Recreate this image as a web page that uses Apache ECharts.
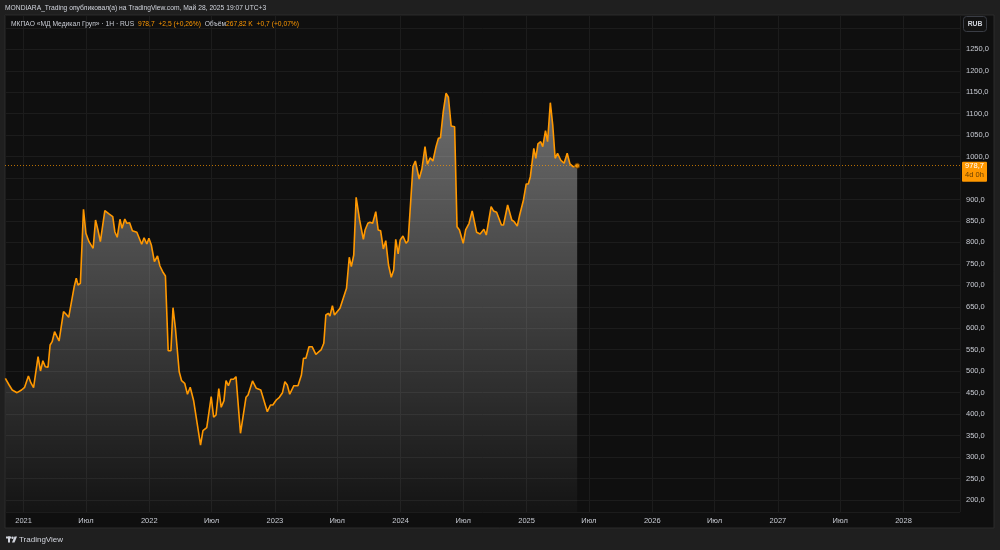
<!DOCTYPE html>
<html>
<head>
<meta charset="utf-8">
<script src="https://cdn.jsdelivr.net/npm/echarts@6/dist/echarts.min.js"></script>
<style>
html, body { margin: 0; padding: 0; background: #1f1f1f; }
#chart { width: 1000px; height: 550px; }
</style>
</head>
<body>
<div id="chart"></div>
<script>
// weekly closes
var dates = [
  '2020-11-09','2020-11-20','2020-11-29','2020-12-13','2020-12-26',
  '2021-01-04','2021-01-15','2021-01-22','2021-01-30','2021-02-12','2021-02-19','2021-02-26','2021-03-05','2021-03-13','2021-03-19','2021-03-25',
  '2021-04-01','2021-04-14','2021-04-27','2021-05-04','2021-05-12','2021-05-28','2021-06-03','2021-06-08','2021-06-15','2021-06-24',
  '2021-07-01','2021-07-10','2021-07-22','2021-07-29','2021-08-05','2021-08-12','2021-08-25','2021-09-06','2021-09-17','2021-09-23','2021-09-30',
  '2021-10-08','2021-10-14','2021-10-22','2021-10-28','2021-11-05','2021-11-13','2021-11-26','2021-12-10','2021-12-17','2021-12-25','2021-12-31',
  '2022-01-07','2022-01-16','2022-01-25','2022-02-01','2022-02-09','2022-02-17','2022-02-25','2022-03-05','2022-03-11','2022-03-18','2022-03-29',
  '2022-04-05','2022-04-14','2022-04-22','2022-04-30','2022-05-10','2022-05-30','2022-06-06','2022-06-17','2022-06-30',
  '2022-07-07','2022-07-14','2022-07-22','2022-07-29','2022-08-06','2022-08-12','2022-08-19','2022-08-26','2022-09-03','2022-09-10','2022-09-23',
  '2022-10-09','2022-10-15','2022-10-28','2022-11-08','2022-11-21','2022-12-10','2022-12-19','2022-12-26',
  '2023-01-05','2023-01-14','2023-01-23','2023-01-30','2023-02-06','2023-02-13','2023-02-25','2023-03-09','2023-03-19','2023-03-25',
  '2023-04-01','2023-04-10','2023-04-19','2023-04-30','2023-05-09','2023-05-15','2023-05-23','2023-05-29','2023-06-05','2023-06-10','2023-06-17','2023-06-23',
  '2023-07-09','2023-07-28','2023-08-05','2023-08-11','2023-08-18','2023-08-25','2023-09-04','2023-09-15','2023-09-20','2023-09-28',
  '2023-10-04','2023-10-12','2023-10-21','2023-10-28','2023-11-04','2023-11-12','2023-11-19','2023-11-27','2023-12-05','2023-12-12','2023-12-18','2023-12-25','2023-12-31',
  '2024-01-08','2024-01-17','2024-01-23','2024-02-06','2024-02-13','2024-02-24','2024-03-03','2024-03-12','2024-03-19','2024-03-27',
  '2024-04-04','2024-04-13','2024-04-20','2024-04-26','2024-05-04','2024-05-12','2024-05-19','2024-05-27','2024-06-06','2024-06-13','2024-06-20',
  '2024-07-01','2024-07-08','2024-07-18','2024-07-27','2024-08-09','2024-08-19','2024-08-30','2024-09-06','2024-09-20','2024-09-27',
  '2024-10-06','2024-10-20','2024-10-26','2024-11-07','2024-11-19','2024-11-26','2024-12-05','2024-12-12','2024-12-23','2024-12-31',
  '2025-01-06','2025-01-12','2025-01-22','2025-01-28','2025-02-03','2025-02-11','2025-02-17','2025-02-25','2025-03-03','2025-03-11','2025-03-18','2025-03-25',
  '2025-04-01','2025-04-10','2025-04-20','2025-04-29','2025-05-07','2025-05-16','2025-05-28'
];
var prices = [
  483.4,467.8,456.2,449.9,456.2,
  462.5,488.8,473.2,461.5,533.8,500.5,524.4,510.5,509.1,561.0,568.7,
  592.0,570.3,638.6,633.3,625.6,696.9,716.4,700.8,704.8,877.2,
  821.3,801.7,786.3,852.3,829.0,801.7,873.9,866.3,860.0,825.0,812.0,
  853.9,832.9,854.6,844.6,846.0,827.3,823.6,795.7,811.0,796.4,809.6,
  794.0,755.1,768.4,745.1,731.8,721.8,547.7,547.7,647.9,600.0,498.8,
  477.9,471.8,446.2,462.5,431.0,328.0,361.4,368.3,440.6,
  392.6,397.9,459.2,415.9,431.3,477.9,466.2,481.1,481.1,487.2,355.3,
  439.2,444.5,477.2,460.1,456.2,405.6,421.2,421.2,
  432.9,439.2,449.9,475.5,467.8,446.2,466.2,466.2,491.1,530.0,
  530.0,557.1,557.1,539.4,545.4,549.4,565.0,630.9,634.9,628.6,652.6,630.9,
  646.5,693.1,765.4,743.5,770.7,905.2,852.3,807.3,829.0,844.6,
  846.9,844.6,871.6,829.0,827.3,784.7,804.0,747.4,718.8,735.8,807.3,773.1,805.7,
  815.0,798.0,804.0,976.5,989.7,947.8,971.1,1023.1,982.1,997.4,
  989.7,1023.1,1042.6,1044.0,1104.6,1147.5,1138.2,1071.3,1069.7,836.7,829.0,
  798.0,829.0,844.6,873.3,823.6,819.7,830.6,817.3,883.3,873.3,
  870.2,840.6,840.6,887.2,852.3,848.3,838.3,863.9,898.9,936.2,
  936.2,953.2,1019.3,996.0,1029.4,1034.7,1023.1,1060.3,1034.7,1125.6,1073.6,996.0,
  1007.7,992.1,984.4,1007.7,982.8,976.5,978.7
];

var lastPrice = 978.7;
var lastPriceText = '978,7';
var barCountdown = '4d 0h';
var currency = 'RUB';
var julyLabel = 'Июл';

var timeMin = new Date(2020, 10, 8).getTime();
var timeMax = new Date(2028, 5, 13).getTime();
var priceMin = 171.9;
var priceMax = 1329.9;

var headerTitle = 'MONDIARA_Trading опубликовал(а) на TradingView.com, Май 28, 2025 19:07 UTC+3';
var symbolName = 'МКПАО «МД Медикал Груп» · 1Н · RUS';
var changeText = '+2,5 (+0,26%)';
var volumeName = 'Объём';
var volumeText = '267,82 K';
var volumeChange = '+0,7 (+0,07%)';

var FONT = '"Liberation Sans", Arial, sans-serif';
var ORANGE = '#ff9800';
var TEXT = '#c9ccd4';

var myChart = echarts.init(document.getElementById('chart'));

var lineData = [];
for (var i = 0; i < dates.length; i++) {
    lineData.push([dates[i], prices[i]]);
}

myChart.setOption({
    animation: false,
    backgroundColor: '#1f1f1f',
    grid: { left: 5, right: 40, top: 15, bottom: 38 },
    xAxis: {
        type: 'time',
        min: timeMin,
        max: timeMax,
        splitNumber: 15,
        axisLine: { show: false },
        axisTick: { show: false },
        splitLine: { show: true, lineStyle: { color: '#1c1c1c', width: 1 } },
        axisLabel: {
            color: TEXT,
            fontSize: 7.5,
            fontFamily: FONT,
            margin: 5,
            hideOverlap: false,
            formatter: function (v) {
                var d = new Date(v);
                if (d.getMonth() === 0) return String(d.getFullYear());
                if (d.getMonth() === 6) return julyLabel;
                return '';
            }
        }
    },
    yAxis: {
        type: 'value',
        position: 'right',
        min: priceMin,
        max: priceMax,
        splitNumber: 23,
        axisLine: { show: false },
        axisTick: { show: false },
        splitLine: { lineStyle: { color: '#1c1c1c', width: 1 } },
        axisLabel: {
            color: TEXT,
            fontSize: 7.5,
            fontFamily: FONT,
            margin: 6,
            align: 'left',
            formatter: function (v) {
                if (v < 200 || v > 1250) return '';
                return v.toFixed(1).replace('.', ',');
            }
        }
    },
    series: [{
        type: 'line',
        data: lineData,
        showSymbol: false,
        symbol: 'none',
        lineStyle: { color: ORANGE, width: 1.6 },
        areaStyle: {
            color: new echarts.graphic.LinearGradient(0, 0, 0, 1, [
                { offset: 0, color: 'rgba(255,255,255,0.56)' },
                { offset: 1, color: 'rgba(255,255,255,0.03)' }
            ])
        },
        markLine: {
            silent: true,
            symbol: ['none', 'none'],
            label: { show: false },
            lineStyle: { color: ORANGE, type: [1, 2], width: 1, opacity: 0.7 },
            data: [{ yAxis: lastPrice }]
        },
        z: 3
    }, {
        type: 'scatter',
        data: [[dates[dates.length - 1], lastPrice]],
        symbolSize: 5,
        itemStyle: { color: ORANGE, borderColor: '#5a3600', borderWidth: 1 },
        z: 4
    }]
});

// frame, header texts and price box
var py = myChart.convertToPixel({ yAxisIndex: 0 }, lastPrice);

myChart.setOption({
    graphic: [
        {
            id: 'panel', type: 'rect', z: -10, silent: true,
            shape: { x: 5, y: 15, width: 989, height: 513 },
            style: { fill: '#0f0f0f', stroke: '#2c2c2c', lineWidth: 1 }
        },
        {
            id: 'title', type: 'text', x: 5, y: 8, scaleX: 0.86,
            style: { text: headerTitle, fill: '#d1d4dc', font: '7.8px ' + FONT, verticalAlign: 'middle' }
        },
        {
            id: 'legend', type: 'text', x: 11, y: 24.3, scaleX: 0.86,
            style: {
                text: '{n|' + symbolName + '}  {o|' + lastPriceText + '}  {o|' + changeText + '}  {n|' + volumeName + '}{o|' + volumeText + '}  {o|' + volumeChange + '}',
                font: '7.8px ' + FONT,
                verticalAlign: 'middle',
                rich: {
                    n: { fill: '#c9ccd4', font: '7.8px ' + FONT },
                    o: { fill: ORANGE, font: '7.8px ' + FONT }
                }
            }
        },
        {
            id: 'rubBox', type: 'rect',
            shape: { x: 963.5, y: 16.5, width: 23, height: 15, r: 3 },
            style: { fill: '#121212', stroke: '#3a3d45', lineWidth: 1 }
        },
        {
            id: 'rubText', type: 'text', x: 975, y: 24,
            style: { text: currency, fill: '#d1d4dc', font: 'bold 6.8px ' + FONT, align: 'center', verticalAlign: 'middle' }
        },
        {
            id: 'priceBox', type: 'rect', z: 20,
            shape: { x: 962, y: py - 4, width: 25, height: 20, r: 1 },
            style: { fill: ORANGE }
        },
        {
            id: 'priceText', type: 'text', z: 21, x: 974.5, y: py + 0.5,
            style: { text: lastPriceText, fill: '#ffffff', font: '7.5px ' + FONT, align: 'center', verticalAlign: 'middle' }
        },
        {
            id: 'countText', type: 'text', z: 21, x: 974.5, y: py + 9,
            style: { text: barCountdown, fill: '#6b4000', font: '7.5px ' + FONT, align: 'center', verticalAlign: 'middle' }
        },
        {
            id: 'logo', type: 'group', x: 6, y: 536.5,
            children: [
                { type: 'rect', shape: { x: 0, y: 0, width: 5, height: 2 }, style: { fill: '#d1d4dc' } },
                { type: 'rect', shape: { x: 2, y: 0, width: 2, height: 6 }, style: { fill: '#d1d4dc' } },
                { type: 'circle', shape: { cx: 6.5, cy: 1.2, r: 1.2 }, style: { fill: '#d1d4dc' } },
                { type: 'polygon', shape: { points: [[8.5, 0], [11, 0], [8.5, 6], [6, 6]] }, style: { fill: '#d1d4dc' } }
            ]
        },
        {
            id: 'logoText', type: 'text', x: 19, y: 539.5,
            style: { text: 'TradingView', fill: '#d1d4dc', font: '8px ' + FONT, verticalAlign: 'middle' }
        }
    ]
});
</script>
</body>
</html>
